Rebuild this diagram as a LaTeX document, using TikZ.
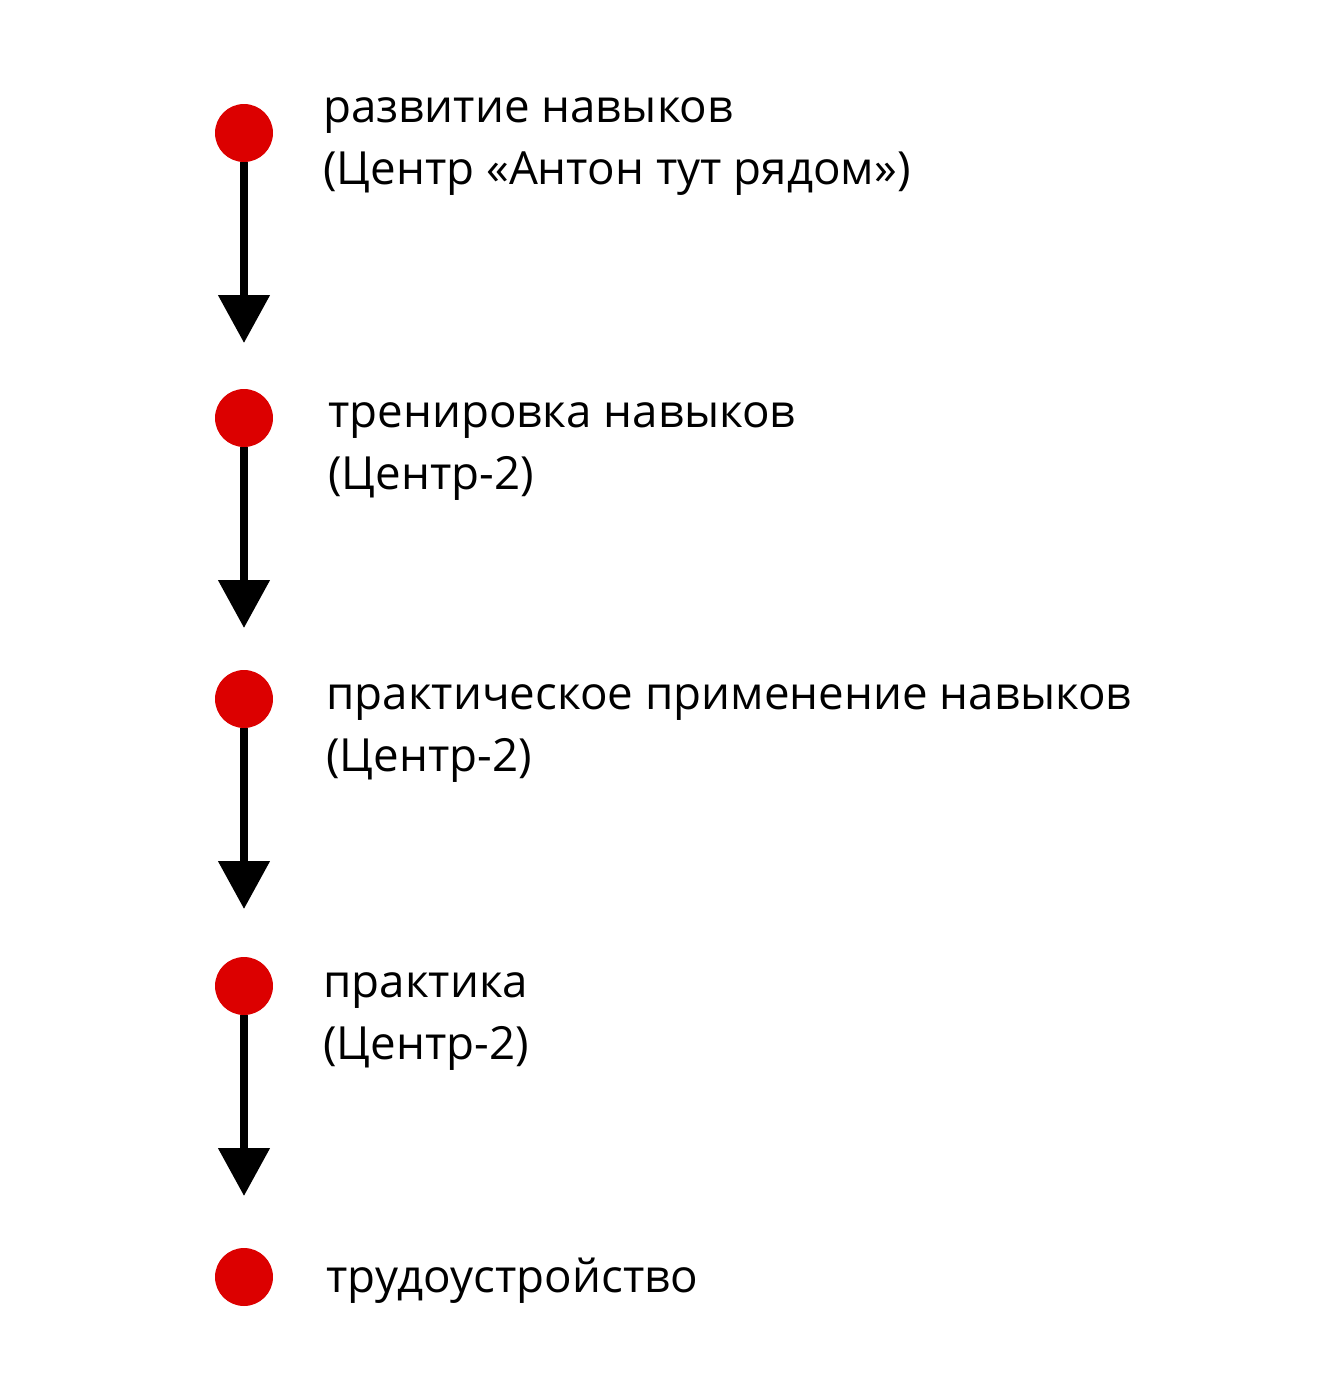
\documentclass[tikz,border=0pt]{standalone}
\usepackage{fontspec}
\setmainfont{Open Sans}
\usetikzlibrary{arrows.meta, positioning}
\definecolor{dotred}{RGB}{220,0,0}
\begin{document}
\begin{tikzpicture}
        [x=0.02cm, y=-0.02cm,
        dot/.style={circle, fill=dotred, minimum size=1.16cm, inner sep=0pt},
        label/.style={anchor=north west, align=left, inner sep=0pt,
        font=\fontsize{26}{35.5}\selectfont},
        line/.style={draw, line width=0.16cm, -{Triangle[width=1cm,length=0.96cm]}}]
        \useasboundingbox (0,0) rectangle (1322,1400);
        % dots
        \node [dot] (d1) at (244,133) {};
        \node [dot] (d2) at (244,418) {};
        \node [dot] (d3) at (244,699) {};
        \node [dot] (d4) at (244,986) {};
        \node [dot] (d5) at (244,1277) {};
        % arrow ends
        \coordinate (e1) at (244,343);
        \coordinate (e2) at (244,628);
        \coordinate (e3) at (244,909);
        \coordinate (e4) at (244,1196);
        % texts
        \node [label] (t1) at (323,97) {развитие навыков\\(Центр «Антон тут рядом»)};
        \node [label] (t2) at (328,402) {тренировка навыков\\(Центр-2)};
        \node [label] (t3) at (326,684) {практическое применение навыков\\(Центр-2)};
        \node [label] (t4) at (323,972) {практика\\(Центр-2)};
        \node [label] (t5) at (326,1258) {трудоустройство};
        % arrows
        \foreach \i in {1,...,4}
            \path [line] (d\i.south) -- (e\i);
\end{tikzpicture}
\end{document}
